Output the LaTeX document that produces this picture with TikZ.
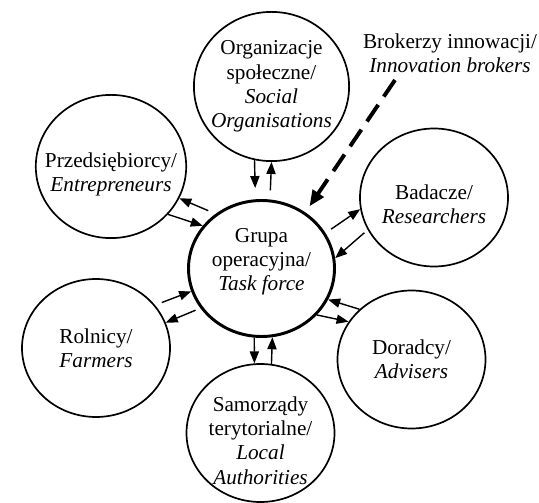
\documentclass[tikz,border=0pt]{standalone}
\usepackage{fontspec}
\setmainfont{Liberation Serif}
\usetikzlibrary{shapes.geometric, arrows.meta}
\tikzstyle{member} = [ellipse, draw=black, line width=1.2pt, minimum width=3.7cm, minimum height=3.45cm]
\tikzstyle{group} = [ellipse, draw=black, line width=2.1pt, minimum width=3.65cm, minimum height=3.4cm]
\tikzstyle{txt} = [align=center]
\tikzstyle{arrow} = [line width=1pt, -{Triangle[length=0.3cm, width=0.23cm]}]
\tikzstyle{brokerarrow} = [line width=2.8pt, dash pattern=on 0.5cm off 0.25cm, -{Triangle[length=0.4cm, width=0.32cm]}]

\begin{document}
\begin{tikzpicture}[font=\fontsize{15.1pt}{17.2pt}\selectfont]
\useasboundingbox (0,0) rectangle (13.475,12.55);

\node (grupa) [group, label={[txt, yshift=0.17cm]center:{Grupa\\operacyjna/\\\textit{Task force}}}] at (6.5375,5.8375) {};
\node (org) [member, minimum width=3.88cm, minimum height=3.73cm, label={[txt]center:{Organizacje\\społeczne/\\\textit{Social}\\\textit{Organisations}}}] at (6.7875,10.3875) {};
\node (prz) [member, minimum width=3.76cm, minimum height=3.58cm, label={[txt, yshift=-0.2cm]center:{Przedsiębiorcy/\\\textit{Entrepreneurs}}}] at (2.775,8.3875) {};
\node (bad) [member, label={[txt, yshift=-0.16cm]center:{Badacze/\\\textit{Researchers}}}] at (10.85,7.6125) {};
\node (dor) [member, label={[txt]center:{Doradcy/\\\textit{Advisers}}}] at (10.2875,3.5625) {};
\node (rol) [member, label={[txt]center:{Rolnicy/\\\textit{Farmers}}}] at (2.4,3.85) {};
\node (sam) [member, label={[txt, yshift=-0.19cm]center:{Samorządy\\terytorialne/\\\textit{Local}\\\textit{Authorities}}}] at (6.5125,1.725) {};

\node (brok) [txt] at (11.25,11.225) {Brokerzy innowacji/\\\textit{Innovation brokers}};
\coordinate (bstart) at (9.875,10.55);

% grupa <-> partners
\draw [arrow, shorten >=0.28cm] (org.257) -- (grupa.95);
\draw [arrow, shorten <=0.23cm] (grupa.83) -- (org.270);

\draw [arrow, shorten <=0.2cm] (grupa.130) -- (prz.335);
\draw [arrow] (prz.320) -- (grupa.144);

\draw [arrow, shorten <=0.17cm] (grupa.29) -- (bad.189);
\draw [arrow, shorten <=0.11cm] (bad.206) -- (grupa.8);

\draw [arrow, shorten <=0.18cm] (rol.36) -- (grupa.198);
\draw [arrow, shorten <=0.13cm] (grupa.213) -- (rol.20);

\draw [arrow] (dor.136) -- (grupa.335);
\draw [arrow] (grupa.320) -- (dor.149);

\draw [arrow] (grupa.264) -- (sam.95);
\draw [arrow] (sam.81) -- (grupa.279);

% brokers
\draw [brokerarrow, shorten >=0.18cm] (bstart) -- (grupa.52);

\end{tikzpicture}
\end{document}
